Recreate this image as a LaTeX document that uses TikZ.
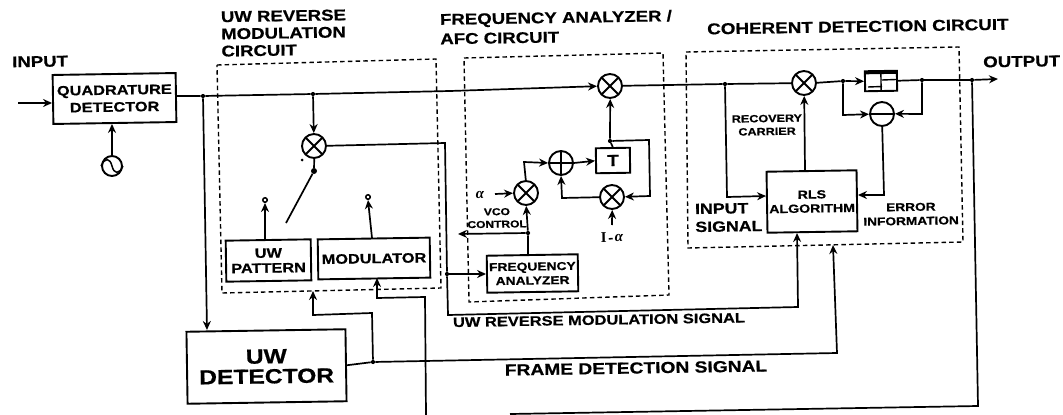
\documentclass[tikz,border=0pt]{standalone}
\usepackage{fontspec}
\setmainfont{Liberation Sans}[FakeStretch=1.2,BoldFeatures={FakeBold=0.6}]
\newfontfamily\serifnum{Liberation Serif}
\usetikzlibrary{arrows.meta,shapes.geometric}
\newcommand{\fs}[2]{\fontsize{#1}{#2}\selectfont\bfseries}
\newcommand{\alp}{{\serifnum\bfseries\itshape\fontsize{15}{15}\selectfont α}}
\tikzset{
 wire/.style={line width=1.7pt,line join=miter},
 arr/.style={wire,-{Stealth[length=9pt,width=8pt]}},
 dbox/.style={line width=1.4pt,dash pattern=on 4.5pt off 3.2pt},
 blk/.style={draw,line width=1.9pt,rectangle,inner sep=0pt,align=center,rotate=0.9},
 txt/.style={inner sep=0pt,align=center,rotate=0.9},
 txl/.style={inner sep=0pt,align=left,rotate=0.9},
 jun/.style={circle,fill,inner sep=0pt,minimum size=4.2pt},
 mix/.style={draw,circle,line width=1.9pt,minimum size=24pt,inner sep=0pt,rotate=0.9,path picture={
   \draw[line width=1.9pt] (path picture bounding box.north west)--(path picture bounding box.south east)
     (path picture bounding box.north east)--(path picture bounding box.south west);}},
 addr/.style={draw,circle,line width=1.9pt,minimum size=24pt,inner sep=0pt,path picture={
   \draw[line width=1.9pt] (path picture bounding box.north)--(path picture bounding box.south)
     (path picture bounding box.east)--(path picture bounding box.west);}},
 subr/.style={draw,circle,line width=1.9pt,minimum size=24pt,inner sep=0pt,rotate=0.9,path picture={
   \draw[line width=1.9pt] (path picture bounding box.east)--(path picture bounding box.west);}},
 osc/.style={draw,circle,line width=1.9pt,minimum size=20pt,inner sep=0pt},
 cont/.style={circle,draw,line width=1.5pt,inner sep=0pt,minimum size=4.5pt},
}
\begin{document}
\begin{tikzpicture}[x=1pt,y=-1pt]
\useasboundingbox[fill=white] (0,0) rectangle (1063,415);
% dashed regions
\draw[dbox] (217,65)--(436,59)--(441,288)--(222,293)--cycle;
\draw[dbox] (464,58)--(663,53)--(669,295)--(469,302)--cycle;
\draw[dbox] (686,52)--(959,47)--(963,242)--(688,248)--cycle;
% blocks
\node[blk,font=\fs{13.6}{17},minimum width=123pt,minimum height=49pt] (qd) at (114.5,98.5) {QUADRATURE\\DETECTOR};
\node[osc] (lo) at (112,166) {};
\draw[line width=1.5pt] (lo.west) .. controls (105,157) and (110,158) .. (lo.center) .. controls (114,174) and (119,175) .. (lo.east);
\node[blk,font=\fs{13.6}{15},minimum width=85pt,minimum height=41pt] (uwp) at (268.5,260.5) {UW\\PATTERN};
\node[blk,font=\fs{13.6}{16},minimum width=112pt,minimum height=40pt] (mod) at (374,258.5) {MODULATOR};
\node[blk,font=\fs{20.5}{20},minimum width=159pt,minimum height=72pt] (uwd) at (266.5,366.5) {UW\\DETECTOR};
\node[blk,font=\fs{11.5}{14},minimum width=91pt,minimum height=37pt] (fa) at (532.5,273.5) {FREQUENCY\\ANALYZER};
\node[blk,font=\fs{16}{18},minimum width=34pt,minimum height=25pt] (tb) at (613,160.5) {T};
\node[blk,font=\fs{11.8}{14},minimum width=90pt,minimum height=61pt] (rls) at (812,201.5) {RLS\\ALGORITHM};
\node[blk,minimum width=32pt,minimum height=20pt] (dec) at (881,81) {};
\draw[line width=2.6pt] (866,73)--(896,72.5);
\draw[line width=1.4pt] (dec.north)--(dec.south) (868,87)--(882,86.5) (882,80)--(896,79.5);
\node[mix] (m1) at (314,146) {};
\node[mix] (m2) at (610,86) {};
\node[mix] (m3) at (526,193) {};
\node[mix] (m4) at (612,197) {};
\node[mix] (m5) at (804,83) {};
\node[addr] (ad) at (561,163) {};
\node[subr] (sb) at (882,114) {};
% junctions and free ends
\coordinate (inL) at (18,103);
\node[jun] (j1) at (203,96) {};
\node[jun] (j2) at (313,94) {};
\node[jun] (j3) at (725,84) {};
\node[jun] (j4) at (843,81) {};
\node[jun] (j5) at (922,80) {};
\node[jun] (j6) at (972,80) {};
\node[jun] (j7) at (447,274) {};
\node[jun] (j8) at (373,362) {};
\node[jun] (j9) at (610,141) {};
\node[jun] (j10) at (528,233) {};
\node[jun,minimum size=6pt] (sw) at (314,171) {};
\node[circle,fill,inner sep=0pt,minimum size=3pt] (dot) at (302,160) {};
\coordinate (swe) at (286,223);
\node[cont] (c1) at (265,200) {};
\node[cont] (c2) at (368,197) {};
\coordinate (outE) at (998,79);
\coordinate (vcoE) at (458,234);
\coordinate (alE) at (495,194);
\coordinate (imE) at (612,225);
% connectors
\draw[arr] (inL)--(qd.west|-inL);
\draw[arr] (lo.north)--(lo.north|-qd.south);
\draw[wire] (qd.east|-j1)--(j1)--(j2);
\draw[arr] (j2)--(450,91)--(m2.west);
\draw[arr] (j1)--(207,330);
\draw[arr] (j2)--(m1.north);
\draw[wire] (m1.south)--(sw)--(swe);
\draw[arr] (265,239.5)--(c1.south);
\draw[arr] (372,238)--(c2.south);
\draw[wire] (m2.east)--(j3);
\draw[wire] (j3)--(m5.west);
\draw[wire] (m5.east)--(j4);
\draw[arr] (j4)--(dec.west);
\draw[wire] (dec.east)--(j5);
\draw[wire] (j5)--(j6);
\draw[arr] (j6)--(outE);
\draw[arr] (j4)--(843,115)--(sb.west);
\draw[arr] (j5)--(922,114)--(sb.east);
\draw[arr] (sb.south)--(884,195)--(rls.east|-884,195);
\draw[arr] (j3)--(727,197)--(rls.west|-727,196);
\draw[arr] (rls.north-|805,171)--(m5.south);
% uw reverse modulation signal
\draw[wire] (m1.east)--(445,143)--(j7);
\draw[arr] (j7)--(fa.west|-j7);
\draw[arr] (j7)--(448,315)--(798,307)--(797,233);
% AFC
\draw[arr] (fa.north-|j10)--(j10)--(m3.south);
\draw[arr] (j10)--(vcoE);
\draw[arr] (alE)--(m3.west);
\draw[arr] (m3.north)--(524,162)--(ad.west);
\draw[arr] (ad.east)--(tb.west);
\draw[arr] (tb.north)--(j9)--(m2.south);
\draw[arr] (j9)--(649,140)--(650,196)--(m4.east);
\draw[arr] (m4.west)--(562,198)--(ad.south);
\draw[arr] (imE)--(m4.south);
% frame detection
\draw[wire] (uwd.east)--(j8);
\draw[arr] (j8)--(837,353)--(833,245);
\draw[arr] (j8)--(372,313)--(313,315)--(313,291);
\draw[arr] (426,415)--(425,297)--(377,298)--(377,278);
\draw[wire] (j6)--(978,406)--(510,414);
% labels
\node[txl,anchor=west,font=\fs{15.5}{17}] (tin) at (12,62) {INPUT};
\node[txl,anchor=west,font=\fs{15.5}{17.2}] (tuw) at (221,34) {UW REVERSE\\MODULATION\\CIRCUIT};
\node[txl,anchor=west,font=\fs{15.5}{19.5}] (tfr) at (440,29) {FREQUENCY ANALYZER /\\AFC CIRCUIT};
\node[txl,anchor=west,font=\fs{15.7}{18}] (tco) at (707,29) {COHERENT DETECTION CIRCUIT};
\node[txl,anchor=west,font=\fs{15.6}{18}] (tou) at (983,62) {OUTPUT};
\node[txt,font=\fs{10}{12.5}] (tvc) at (497,218) {VCO\\CONTROL};
\node[txt] (tal) at (480,195) {\alp};
\node[txt] (tim) at (612,237) {{\serifnum\bfseries\fontsize{15}{15}\selectfont I}\,{\fs{12}{12}-}\,\alp};
\node[txt,font=\fs{10.5}{13}] (tre) at (767,125) {RECOVERY\\CARRIER};
\node[txl,anchor=west,font=\fs{14.8}{18}] (tis) at (695,218) {INPUT\\SIGNAL};
\node[txt,font=\fs{11.4}{14}] (ter) at (911,214) {ERROR\\INFORMATION};
\node[txt,font=\fs{13.7}{16}] (tum) at (599,320) {UW REVERSE MODULATION SIGNAL};
\node[txt,font=\fs{16}{18}] (tfd) at (636,368) {FRAME DETECTION SIGNAL};
\end{tikzpicture}
\end{document}
